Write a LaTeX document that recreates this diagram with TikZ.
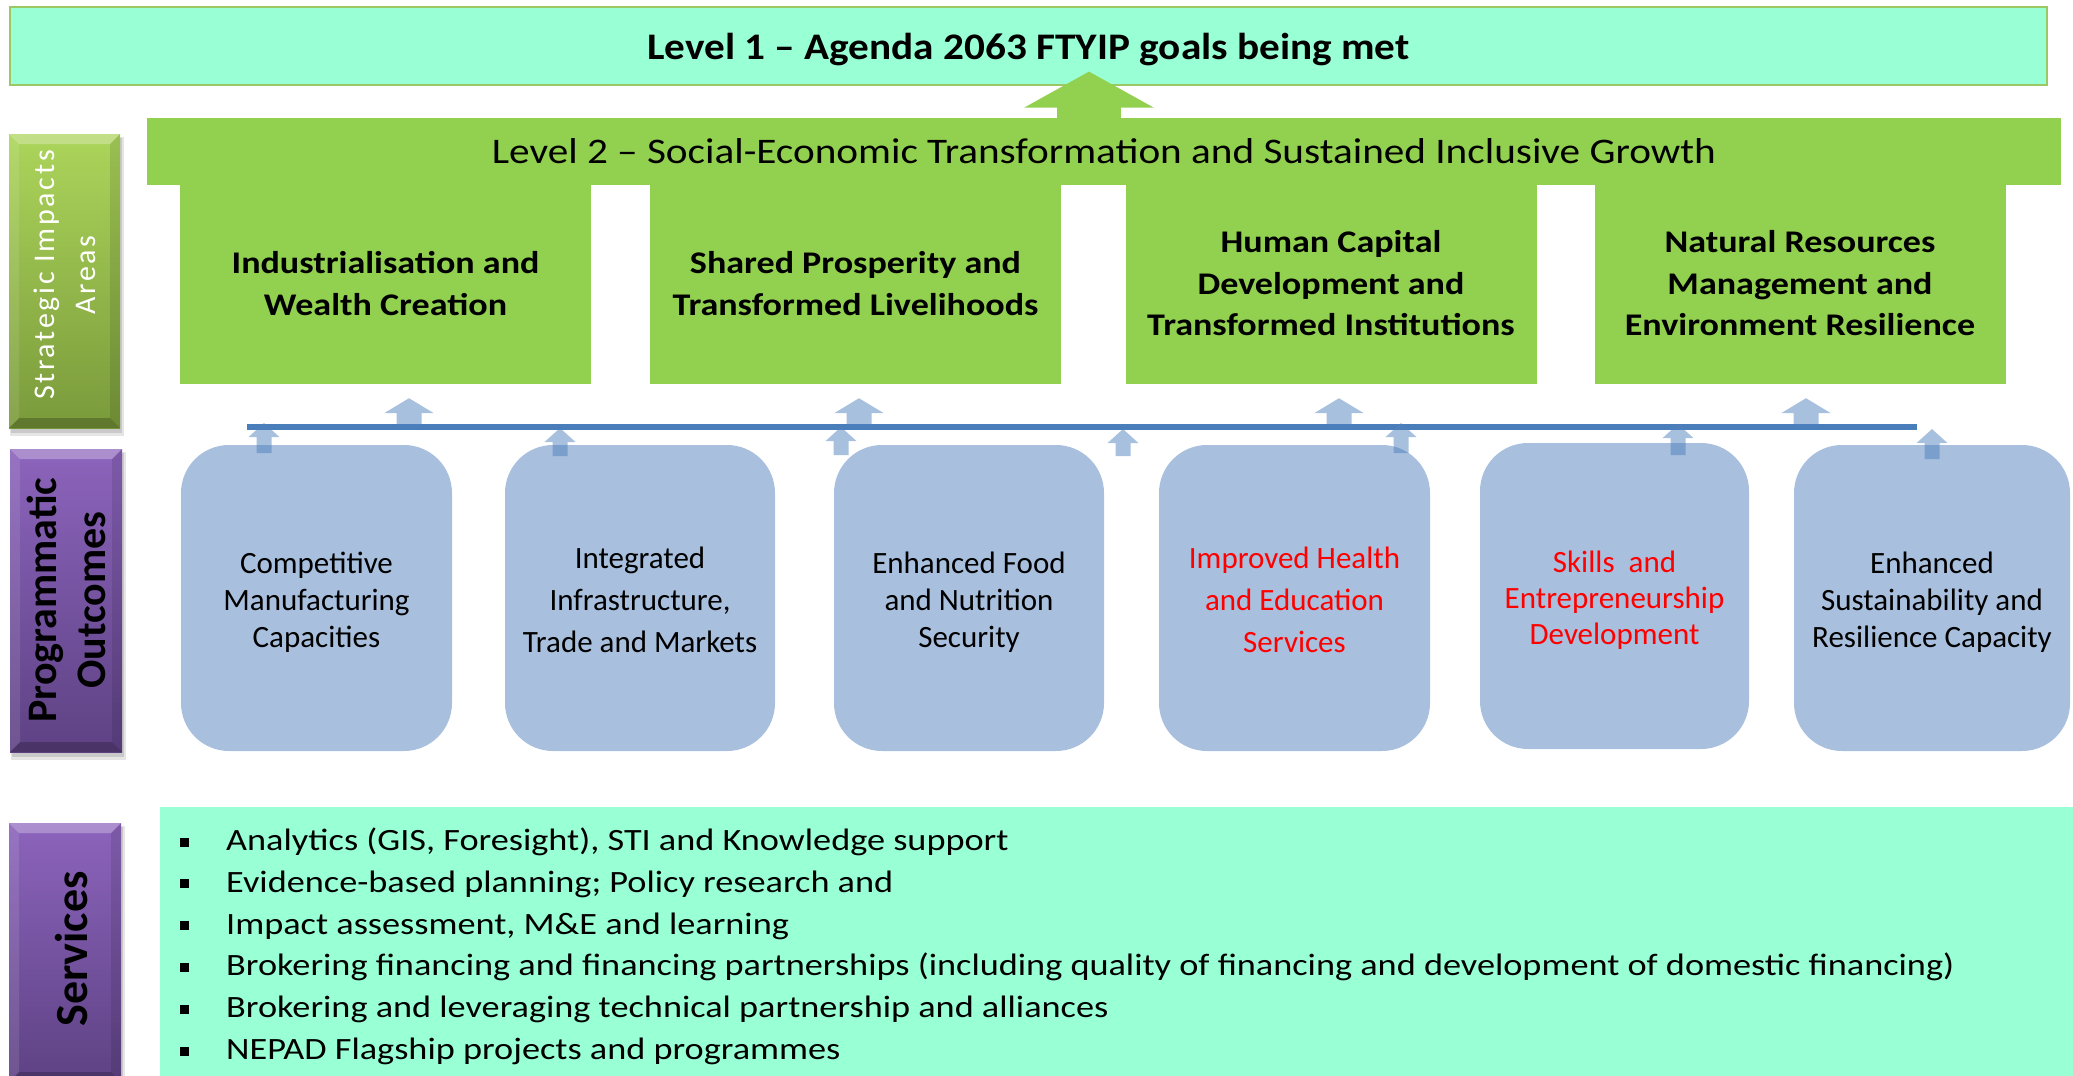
\documentclass[tikz,border=0pt]{standalone}
\usepackage{fontspec}
\setmainfont{Carlito}
\newfontfamily\stretchA[Ligatures=TeX,FakeStretch=1.10]{Carlito}
\newfontfamily\stretchB[Ligatures=TeX,FakeStretch=1.145]{Carlito}
\newfontfamily\stretchC[Ligatures=TeX,FakeStretch=1.17]{Carlito}
\usetikzlibrary{arrows.meta}
\definecolor{aquafill}{RGB}{153,255,213}
\definecolor{aquaborder}{RGB}{155,200,100}
\definecolor{leafgreen}{RGB}{146,208,80}
\definecolor{boxblue}{RGB}{168,191,222}
\definecolor{accentblue}{RGB}{79,129,189}
\definecolor{busblue}{RGB}{74,126,187}
\definecolor{greentop}{RGB}{172,213,91}
\definecolor{greenbot}{RGB}{122,154,59}
\definecolor{purpletop}{RGB}{140,100,188}
\definecolor{purplebot}{RGB}{94,66,132}
\newcommand{\bevelbar}[6]{%
  \fill[black,opacity=0.10] (#1+1,#2+3) rectangle (#3+4,#4+8);
  \fill[black,opacity=0.12] (#1+2,#2+4) rectangle (#3+2,#4+5);
  \shade[top color=#5,bottom color=#6] (#1,#2) rectangle (#3,#4);
  \fill[white,opacity=0.28] (#1,#2) -- (#3,#2) -- (#3-10,#2+10) -- (#1+10,#2+10) -- cycle;
  \fill[black,opacity=0.22] (#1,#4) -- (#3,#4) -- (#3-10,#4-10) -- (#1+10,#4-10) -- cycle;
  \fill[white,opacity=0.10] (#1,#2) -- (#1+10,#2+10) -- (#1+10,#4-10) -- (#1,#4) -- cycle;
  \fill[black,opacity=0.10] (#3,#2) -- (#3-10,#2+10) -- (#3-10,#4-10) -- (#3,#4) -- cycle;
}
\begin{document}
\begin{tikzpicture}[x=1pt,y=-1pt,
  lvlone/.style={draw=aquaborder,line width=1.2pt,fill=aquafill,minimum width=2037pt,minimum height=78pt,inner sep=0pt,text depth=0pt,font=\stretchA\fontsize{37.5}{45}\selectfont\bfseries},
  lvltwo/.style={fill=leafgreen,minimum width=1914pt,minimum height=67pt,inner sep=0pt,font=\stretchB\fontsize{36}{43}\selectfont},
  pillar/.style={fill=leafgreen,minimum width=411pt,minimum height=201pt,inner sep=0pt,align=center,font=\stretchB\fontsize{31.5}{41.5}\selectfont\bfseries},
  outbox/.style={fill=boxblue,rounded corners=48pt,minimum height=306pt,inner sep=0pt},
  outtext/.style={align=center,inner sep=0pt,font=\fontsize{31}{37}\selectfont},
  greenarrow/.style={draw=leafgreen,line width=64pt,-{Triangle[width=128pt,length=36pt]}},
  bigup/.style={draw=accentblue,line width=25pt,-{Triangle[width=49pt,length=15pt]}},
  smallup/.style={draw=accentblue,line width=15pt,-{Triangle[width=30pt,length=14pt]}},
  busline/.style={draw=busblue,line width=6.5pt},
  bulletsq/.style={fill=black,minimum size=9pt,inner sep=0pt},
  svctext/.style={inner sep=0pt,font=\stretchC\fontsize{31}{37}\selectfont},
  sidelabel/.style={rotate=90,align=center,inner sep=0pt}
]
\useasboundingbox (0,0) rectangle (2073,1076);

% Level 2 band and pillars
\node[lvltwo] (lvl2) at (1104,151) {Level 2 – Social-Economic Transformation and Sustained Inclusive Growth};
\node[pillar] (p1) at (385.5,283.5) {Industrialisation and\\Wealth Creation};
\node[pillar] (p2) at (855.5,283.5) {Shared Prosperity and\\Transformed Livelihoods};
\node[pillar] (p3) at (1331,283.5) {Human Capital\\Development and\\Transformed Institutions};
\node[pillar] (p4) at (1800,283.5) {Natural Resources\\Management and\\Environment Resilience};

% Level 1 banner
\node[lvlone] (lvl1) at (1028.5,46) {Level 1 – Agenda 2063 FTYIP goals being met};
\draw[greenarrow] ([xshift=-15pt,yshift=-1pt]lvl2.north) -- ([xshift=60.5pt,yshift=14pt]lvl1.south);

% Programmatic outcome boxes
\node[outbox,minimum width=271pt] (o1) at (316.5,598) {};
\node[outbox,minimum width=270pt] (o2) at (640,598) {};
\node[outbox,minimum width=270pt] (o3) at (969,598) {};
\node[outbox,minimum width=271pt] (o4) at (1294.5,598) {};
\node[outbox,minimum width=269pt] (o5) at (1614.5,596) {};
\node[outbox,minimum width=276pt] (o6) at (1932,598) {};
\node[outtext] (o1t) at ([yshift=-4pt]o1.center) {Competitive\\Manufacturing\\Capacities};
\node[outtext,font=\fontsize{31}{42}\selectfont] (o2t) at ([yshift=-2pt]o2.center) {Integrated\\Infrastructure,\\Trade and Markets};
\node[outtext] (o3t) at ([yshift=-4pt]o3.center) {Enhanced Food\\and Nutrition\\Security};
\node[outtext,text=red,font=\fontsize{31}{42}\selectfont] (o4t) at ([yshift=-2pt]o4.center) {Improved Health\\and Education\\Services};
\node[outtext,text=red,font=\fontsize{31}{36}\selectfont] (o5t) at ([yshift=-4pt]o5.center) {Skills~ and\\Entrepreneurship\\Development};
\node[outtext] (o6t) at ([yshift=-4pt]o6.center) {Enhanced\\Sustainability and\\Resilience Capacity};

% bus line
\coordinate (busL) at (247,427);
\coordinate (busR) at (1917,427);
\draw[busline] (busL) -- (busR);

% arrow end points
\coordinate (u1) at (409,427);
\coordinate (u2) at (859,427);
\coordinate (u3) at (1339,427);
\coordinate (u4) at (1806,427);
\coordinate (l1a) at (264,453);  \coordinate (l1b) at (264,423);
\coordinate (l2a) at (560,456);  \coordinate (l2b) at (560,428);
\coordinate (l3a) at (841,455);  \coordinate (l3b) at (841,427);
\coordinate (l4a) at (1123,456); \coordinate (l4b) at (1123,429);
\coordinate (l5a) at (1401,453); \coordinate (l5b) at (1401,423);
\coordinate (l6a) at (1678,455); \coordinate (l6b) at (1678,424);
\coordinate (l7a) at (1932,459); \coordinate (l7b) at (1932,429);

\begin{scope}[transparency group,opacity=0.5]
  \draw[bigup,shorten >=14pt] (u1) -- (u1 |- p1.south);
  \draw[bigup,shorten >=14pt] (u2) -- (u2 |- p2.south);
  \draw[bigup,shorten >=14pt] (u3) -- (u3 |- p3.south);
  \draw[bigup,shorten >=14pt] (u4) -- (u4 |- p4.south);
  \draw[smallup] (l1a) -- (l1b);
  \draw[smallup] (l2a) -- (l2b);
  \draw[smallup] (l3a) -- (l3b);
  \draw[smallup] (l4a) -- (l4b);
  \draw[smallup] (l5a) -- (l5b);
  \draw[smallup] (l6a) -- (l6b);
  \draw[smallup] (l7a) -- (l7b);
\end{scope}

% side bars
\bevelbar{9}{134}{120}{428}{greentop}{greenbot}
\bevelbar{10}{449}{122}{752}{purpletop}{purplebot}
\bevelbar{9}{823}{121}{1082}{purpletop}{purplebot}
\node[sidelabel,text=white,font=\fontsize{30}{41}\selectfont\addfontfeature{LetterSpace=9}] (sia) at (64.5,275) {Strategic Impacts\\Areas};
\node[sidelabel,font=\fontsize{42}{49}\selectfont\bfseries] (po) at (66,600) {Programmatic\\Outcomes};
\node[sidelabel,font=\fontsize{46}{50}\selectfont\bfseries] (sv) at (72,949) {Services};

% services box
\fill[aquafill] (160,807) rectangle (2073,1076);
\foreach \i/\t in {1/{Analytics (GIS, Foresight), STI and Knowledge support},
                   2/{Evidence-based planning; Policy research and},
                   3/{Impact assessment, M\&E and learning},
                   4/{Brokering financing and financing partnerships (including quality of financing and development of domestic financing)},
                   5/{Brokering and leveraging technical partnership and alliances},
                   6/{NEPAD Flagship projects and programmes}}{
  \node[bulletsq] (b\i) at (184.5,{842+41.8*(\i-1)}) {};
  \node[svctext,anchor=base west] (s\i) at (226,{850.5+41.8*(\i-1)}) {\t};
}
\end{tikzpicture}
\end{document}
